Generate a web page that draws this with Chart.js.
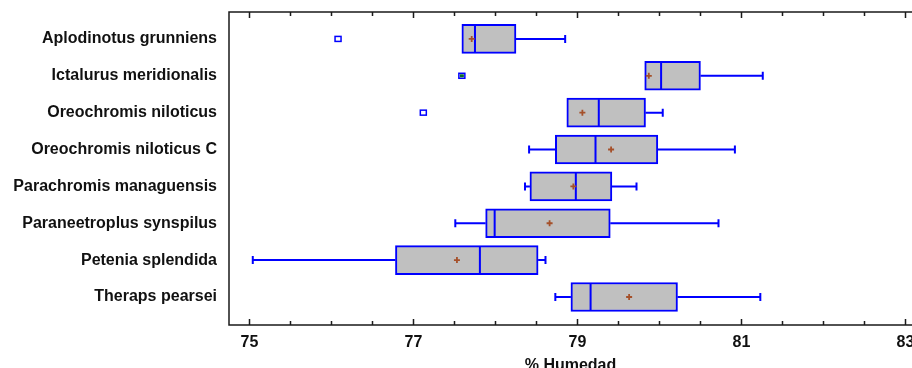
<!DOCTYPE html>
<html>
<head>
<meta charset="utf-8">
<script src="https://cdn.jsdelivr.net/npm/chart.js@4/dist/chart.umd.min.js"></script>
<style>
  html, body { margin: 0; padding: 0; background: #fff; }
  #wrap { width: 912px; height: 368px; }
</style>
</head>
<body>
<div id="wrap"><canvas id="boxChart"></canvas></div>
<script>
// Box plot data (% Humedad)
const categories = ['Aplodinotus grunniens', 'Ictalurus meridionalis', 'Oreochromis niloticus',
  'Oreochromis niloticus C', 'Parachromis managuensis', 'Paraneetroplus synspilus',
  'Petenia splendida', 'Theraps pearsei'];
const mins     = [77.59, 79.82, 78.87, 78.41, 78.36, 77.51, 75.04, 78.73];
const q1       = [77.59, 79.82, 78.87, 78.73, 78.42, 77.88, 76.78, 78.92];
const medians  = [77.75, 80.02, 79.26, 79.22, 78.98, 77.99, 77.81, 79.16];
const q3       = [78.25, 80.50, 79.83, 79.98, 79.42, 79.40, 78.52, 80.22];
const maxs     = [78.85, 81.26, 80.04, 80.92, 79.72, 80.72, 78.61, 81.23];
const means    = [77.71, 79.87, 79.06, 79.41, 78.95, 78.66, 77.53, 79.63];
const outliers = [[76.08], [77.59], [77.12], [], [], [], [], []];
const xTickLabels = [75, 77, 79, 81, 83];

const FONT = 'Liberation Sans';
const BOX_H = 29;

const boxParts = {
  id: 'boxParts',
  afterDatasetsDraw(chart) {
    const { ctx, chartArea: a, scales: { x, y } } = chart;
    ctx.save();
    ctx.strokeStyle = '#0000ff';
    ctx.lineWidth = 2;
    categories.forEach((c, i) => {
      const cy = y.getPixelForValue(i);
      const top = cy - BOX_H / 2 + 1, bot = cy + BOX_H / 2 - 1;
      // whiskers
      ctx.beginPath();
      if (maxs[i] > q3[i]) {
        const xm = x.getPixelForValue(maxs[i]);
        ctx.moveTo(x.getPixelForValue(q3[i]), cy); ctx.lineTo(xm, cy);
        ctx.moveTo(xm, cy - 4); ctx.lineTo(xm, cy + 4);
      }
      if (mins[i] < q1[i]) {
        const xm = x.getPixelForValue(mins[i]);
        ctx.moveTo(x.getPixelForValue(q1[i]), cy); ctx.lineTo(xm, cy);
        ctx.moveTo(xm, cy - 4); ctx.lineTo(xm, cy + 4);
      }
      // median
      const xmed = x.getPixelForValue(medians[i]);
      ctx.moveTo(xmed, top); ctx.lineTo(xmed, bot);
      ctx.stroke();

      // outliers
      const iqr = q3[i] - q1[i];
      outliers[i].forEach(v => {
        const ox = x.getPixelForValue(v);
        ctx.lineWidth = 1.5;
        ctx.fillStyle = '#fff';
        ctx.fillRect(ox - 3, cy - 2.5, 6, 5);
        ctx.strokeRect(ox - 3, cy - 2.5, 6, 5);
        if (v < q1[i] - 3 * iqr || v > q3[i] + 3 * iqr) {
          ctx.fillStyle = '#0a6a2a';
          ctx.fillRect(ox - 2, cy - 1.5, 4, 3);
        }
        ctx.lineWidth = 2;
      });

      // mean marker
      const mx = x.getPixelForValue(means[i]);
      ctx.save();
      ctx.strokeStyle = '#a5502a';
      ctx.lineWidth = 1.8;
      ctx.beginPath();
      ctx.moveTo(mx - 3, cy); ctx.lineTo(mx + 3, cy);
      ctx.moveTo(mx, cy - 3); ctx.lineTo(mx, cy + 3);
      ctx.stroke();
      ctx.restore();
    });

    // frame
    ctx.strokeStyle = '#1a1a1a';
    ctx.lineWidth = 1.5;
    ctx.beginPath();
    ctx.moveTo(a.right, a.top); ctx.lineTo(a.left, a.top);
    ctx.lineTo(a.left, a.bottom); ctx.lineTo(a.right, a.bottom);
    ctx.stroke();

    // inward ticks, top and bottom
    ctx.beginPath();
    for (let v = 75; v <= 83; v += 0.5) {
      const px = Math.round(x.getPixelForValue(v)) + 0.5;
      const len = xTickLabels.includes(v) ? 6 : 4;
      ctx.moveTo(px, a.bottom); ctx.lineTo(px, a.bottom - len);
      ctx.moveTo(px, a.top); ctx.lineTo(px, a.top + len);
    }
    ctx.stroke();
    ctx.restore();
  }
};

const ctx = document.getElementById('boxChart').getContext('2d');
const boxChart = new Chart(ctx, {
  type: 'bar',
  data: {
    datasets: [{
      data: categories.map((c, i) => ({ x: [q1[i], q3[i]], y: i })),
      backgroundColor: '#c0c0c0',
      borderColor: '#0000ff',
      borderWidth: 2,
      borderSkipped: false,
      barThickness: BOX_H
    }]
  },
  options: {
    indexAxis: 'y',
    responsive: true,
    maintainAspectRatio: false,
    animation: false,
    layout: { padding: { top: 12, right: 0, left: 0, bottom: 0 } },
    plugins: { legend: { display: false }, tooltip: { enabled: false } },
    scales: {
      x: {
        type: 'linear',
        min: 74.75,
        max: 83.08,
        grid: { display: false, drawTicks: false },
        border: { display: false },
        afterBuildTicks: s => { s.ticks = xTickLabels.map(v => ({ value: v })); },
        afterFit: s => { s.height = 43; s.paddingLeft = 0; s.paddingRight = 0; },
        ticks: { autoSkip: false, maxRotation: 0, padding: 8, color: '#111',
          font: { family: FONT, size: 16, weight: 'bold' } },
        title: { display: true, text: '% Humedad', color: '#111', padding: { top: 0, bottom: -7 },
          font: { family: FONT, size: 16, weight: 'bold' } }
      },
      y: {
        type: 'linear',
        reverse: true,
        offset: false,
        min: -0.73,
        max: 7.76,
        grid: { display: false, drawTicks: false, offset: false },
        border: { display: false },
        afterBuildTicks: s => { s.ticks = categories.map((c, i) => ({ value: i })); },
        afterFit: s => { s.width = 229; s.paddingTop = 0; s.paddingBottom = 0; },
        ticks: { autoSkip: false, padding: 12, color: '#111',
          font: { family: FONT, size: 16, weight: 'bold' },
          callback: v => categories[v] }
      }
    }
  },
  plugins: [boxParts]
});
</script>
</body>
</html>
